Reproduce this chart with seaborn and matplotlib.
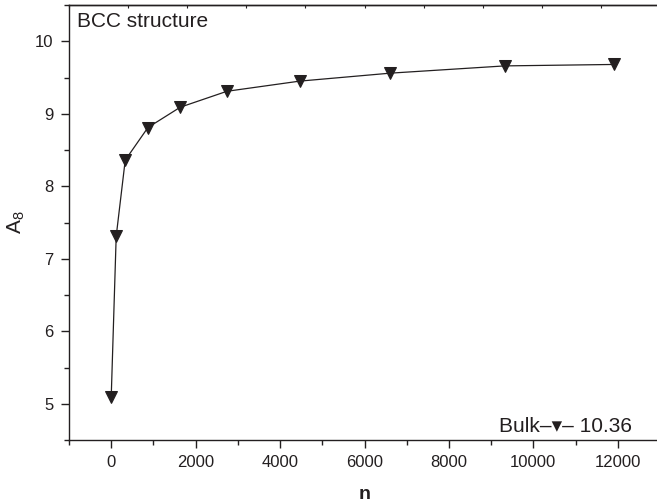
import numpy as np
import pandas as pd
import matplotlib
matplotlib.use("Agg")
import matplotlib.pyplot as plt
from matplotlib.ticker import MultipleLocator
import seaborn as sns

# ---- data ----
n_values = [0, 118, 332, 870, 1635, 2742, 4464, 6613, 9322, 11915]
a8_values = [5.09, 7.31, 8.36, 8.81, 9.09, 9.31, 9.45, 9.56, 9.66, 9.68]
x_ticks = [0, 2000, 4000, 6000, 8000, 10000, 12000]
y_ticks = [5, 6, 7, 8, 9, 10]
panel_label = "BCC structure"
bulk_label = "Bulk"
bulk_value = "10.36"

df = pd.DataFrame({"n": n_values, "A8": a8_values})

sns.set_theme(style="ticks")
plt.rcParams["font.family"] = ["Liberation Sans", "DejaVu Sans"]
ink = "#231f20"
plt.rcParams.update({
    "text.color": ink, "axes.labelcolor": ink,
    "xtick.color": ink, "ytick.color": ink,
    "axes.edgecolor": ink,
    "mathtext.fontset": "custom",
    "mathtext.rm": "Liberation Sans",
    "mathtext.it": "Liberation Sans:italic",
    "mathtext.bf": "Liberation Sans:bold",
})

fig = plt.figure(figsize=(6.57, 5.04), dpi=100)
ax = fig.add_axes([69 / 657, 64 / 504, 591 / 657, 435 / 504])

sns.lineplot(data=df, x="n", y="A8", ax=ax, color=ink, linewidth=0.9,
             marker="v", markersize=9, markeredgecolor=ink,
             markerfacecolor=ink, sort=False)

ax.set_xlim(-1000, 13000)
ax.set_ylim(4.5, 10.5)
ax.set_xticks(x_ticks)
ax.set_yticks(y_ticks)
ax.xaxis.set_minor_locator(MultipleLocator(1000))
ax.yaxis.set_minor_locator(MultipleLocator(0.5))
ax.tick_params(which="major", direction="out", length=6, width=1.0,
               labelsize=12, pad=5)
ax.tick_params(which="minor", direction="out", length=3.6, width=1.0)
ax.tick_params(top=False, right=False)
for s in ax.spines.values():
    s.set_linewidth(1.0)
ax.spines["right"].set_visible(False)

# top axis with small inward ticks
top = ax.secondary_xaxis("top")
top.set_xticks(np.linspace(-1000, 13000, 11))
top.tick_params(direction="in", length=2.5, width=0.8, labeltop=False)
top.spines["top"].set_linewidth(1.0)

ax.set_xlabel("n", fontsize=14, fontweight="bold", labelpad=11)
ax.set_ylabel(r"A$_8$", fontsize=15, labelpad=6)

ax.text(0.013, 0.985, panel_label, transform=ax.transAxes, fontsize=15,
        ha="left", va="top")
ax.text(0.953, 0.018, f"{bulk_label}\u2013\u25be\u2013 {bulk_value}",
        transform=ax.transAxes, fontsize=15, ha="right", va="baseline")

fig.savefig("out.png", dpi=100)
